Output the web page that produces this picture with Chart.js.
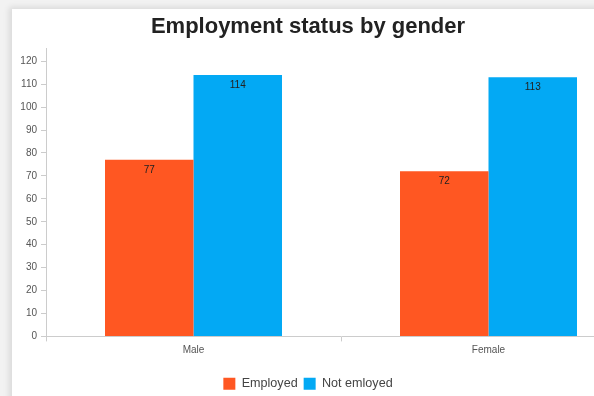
<!DOCTYPE html>
<html>
<head>
<meta charset="utf-8">
<script src="https://cdn.jsdelivr.net/npm/chart.js@4.4.1/dist/chart.umd.min.js"></script>
<style>
  html, body { margin: 0; padding: 0; width: 594px; height: 396px; overflow: hidden; background: #f2f2f2; }
  #panel { position: absolute; left: 12px; top: 9px; width: 600px; height: 400px; background: #fff;
           box-shadow: -3px -2px 6px rgba(0,0,0,0.10); }
  #wrap { position: absolute; left: -20px; top: 0; width: 656px; height: 400px; }
</style>
</head>
<body>
<div id="panel"></div>
<div id="wrap"><canvas id="chart"></canvas></div>
<script>
const categories = ['Male', 'Female'];
const employed = [77, 72];
const notEmployed = [114, 113];
const seriesNames = ['Employed', 'Not emloyed'];
const yTickStep = 10;
const yTickTop = 120;

const FONT = '"Liberation Sans", Arial, sans-serif';

// Writes each bar's value just inside its top edge
const barValues = {
  id: 'barValues',
  afterDatasetsDraw(chart) {
    const ctx = chart.ctx;
    ctx.save();
    ctx.font = '10px ' + FONT;
    ctx.fillStyle = '#222';
    ctx.textAlign = 'center';
    ctx.textBaseline = 'top';
    chart.data.datasets.forEach((ds, i) => {
      chart.getDatasetMeta(i).data.forEach((bar, j) => {
        ctx.fillText(String(ds.data[j]), bar.x, bar.y + 5);
      });
    });
    ctx.restore();
  }
};

new Chart(document.getElementById('chart'), {
  type: 'bar',
  data: {
    labels: categories,
    datasets: [
      { label: seriesNames[0], data: employed, backgroundColor: '#FF5722', borderWidth: 0,
        categoryPercentage: 0.6, barPercentage: 1.0 },
      { label: seriesNames[1], data: notEmployed, backgroundColor: '#03A9F4', borderWidth: 0,
        categoryPercentage: 0.6, barPercentage: 1.0 }
    ]
  },
  plugins: [barValues],
  options: {
    responsive: true,
    maintainAspectRatio: false,
    animation: false,
    layout: { padding: { left: 0, right: 0, top: 0, bottom: 0 } },
    plugins: {
      title: {
        display: true,
        text: 'Employment status by gender',
        color: '#222',
        font: { family: FONT, size: 22, weight: 'bold' },
        padding: { top: 14, bottom: 8 }
      },
      legend: {
        position: 'bottom',
        labels: {
          color: '#444',
          font: { family: FONT, size: 12.6 },
          boxWidth: 12, boxHeight: 12, padding: 6
        }
      },
      tooltip: { enabled: false }
    },
    scales: {
      x: {
        afterFit(scale) { scale.height += 12; },
        grid: { drawOnChartArea: false, color: '#ccc', tickLength: 5 },
        border: { color: '#ccc' },
        ticks: { color: '#555', font: { family: FONT, size: 10 }, padding: 3 }
      },
      y: {
        min: 0,
        max: 125.6,
        afterFit(scale) { scale.width = 66; },
        afterBuildTicks(scale) {
          scale.ticks = scale.ticks.filter(t => t.value % yTickStep === 0 && t.value <= yTickTop);
        },
        grid: { drawOnChartArea: false, color: '#ccc', tickLength: 5 },
        border: { color: '#ccc' },
        ticks: { stepSize: yTickStep, color: '#555', font: { family: FONT, size: 10 }, padding: 4 }
      }
    }
  }
});
</script>
</body>
</html>
